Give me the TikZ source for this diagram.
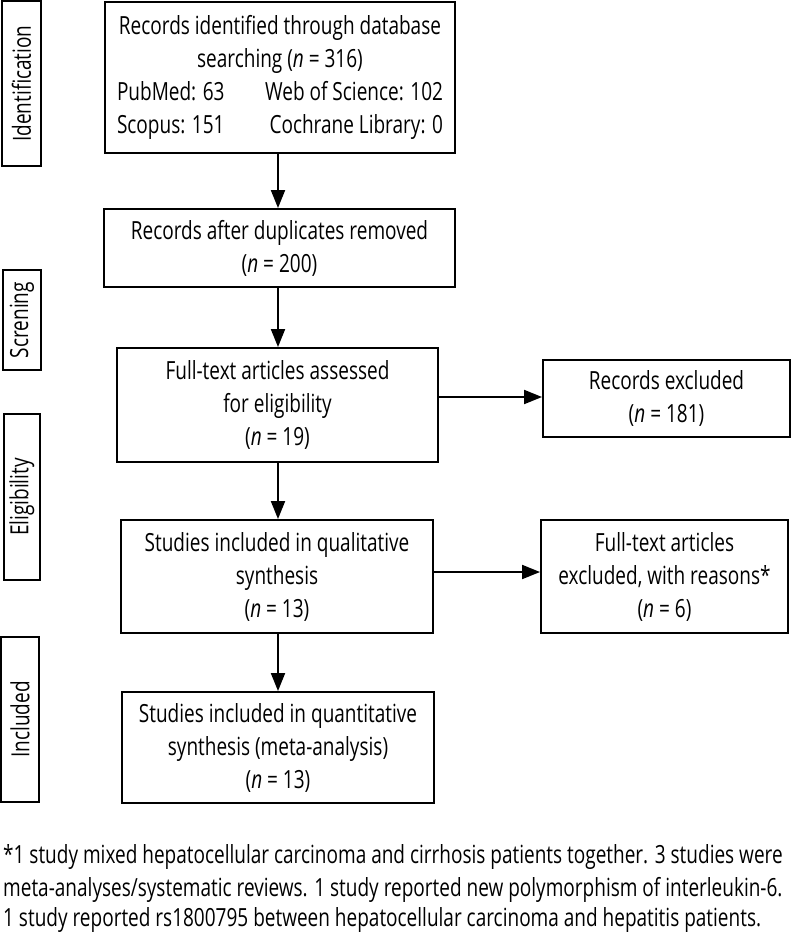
\documentclass[tikz,border=0pt]{standalone}
\usepackage{fontspec}
\setmainfont{Open Sans}[FakeStretch=0.76]
\usetikzlibrary{arrows.meta}
\begin{document}
\begin{tikzpicture}[x=1pt,y=-1pt,
  every node/.style={font=\fontsize{25}{33}\selectfont, inner sep=0pt},
  box/.style={draw, line width=1.9pt, align=center},
  side/.style={draw, line width=1.9pt, rotate=90},
  arr/.style={line width=1.9pt, -{Triangle[length=18pt,width=14pt]}},
  foot/.style={anchor=west}
]
\useasboundingbox (0,0) rectangle (791,948);
% main boxes
\node[box, minimum width=350pt, minimum height=151pt] (b1) at (280,77.5)
  {Records identified through database\\ searching (\textit{n} = 316)\\
   \makebox[326pt]{PubMed: 63\hfill Web of Science: 102}\\
   \makebox[326pt]{Scopus: 151\hfill Cochrane Library: 0}};
\node[box, minimum width=351pt, minimum height=78pt] (b2) at (279.5,248)
  {Records after duplicates removed\\ (\textit{n} = 200)};
\node[box, minimum width=321pt, minimum height=114pt] (b3) at (277.5,405)
  {Full-text articles assessed\\ for eligibility\\ (\textit{n} = 19)};
\node[box, minimum width=247pt, minimum height=77pt] (rex) at (666.5,398.5)
  {Records excluded\\ (\textit{n} = 181)};
\node[box, minimum width=312pt, minimum height=113pt] (b4) at (277,576.5)
  {Studies included in qualitative\\ synthesis\\ (\textit{n} = 13)};
\node[box, minimum width=247pt, minimum height=113pt] (fex) at (664.5,576.5)
  {Full-text articles\\ excluded, with reasons*\\ (\textit{n} = 6)};
\node[box, minimum width=312pt, minimum height=111pt] (b5) at (278,747.5)
  {Studies included in quantitative\\ synthesis (meta-analysis)\\ (\textit{n} = 13)};
% side labels
\node[side, minimum width=165pt, minimum height=39pt] (sid) at (21.5,83.5) {Identification};
\node[side, minimum width=100pt, minimum height=38pt] (sscr) at (22,320) {Screning};
\node[side, minimum width=166pt, minimum height=36pt] (selig) at (22,497) {Eligibility};
\node[side, minimum width=165pt, minimum height=38pt] (sinc) at (20,719.5) {Included};
% arrows
\coordinate (x0) at (278,0);
\draw[arr] (b1.south -| x0) -- (b2.north -| x0);
\draw[arr] (b2.south -| x0) -- (b3.north -| x0);
\draw[arr] (b3.south -| x0) -- (b4.north -| x0);
\draw[arr] (b4.south -| x0) -- (b5.north -| x0);
\coordinate (y1) at (0,397);
\coordinate (y2) at (0,572);
\draw[arr] (b3.east |- y1) -- (rex.west |- y1);
\draw[arr] (b4.east |- y2) -- (fex.west |- y2);
% footnote
\node[foot] (f1) at (3,857) {*1 study mixed hepatocellular carcinoma and cirrhosis patients together. 3 studies were};
\node[foot] (f2) at (3,890) {meta-analyses/systematic reviews. 1 study reported new polymorphism of interleukin-6.};
\node[foot] (f3) at (3,920) {1 study reported rs1800795 between hepatocellular carcinoma and hepatitis patients.};
\end{tikzpicture}
\end{document}
